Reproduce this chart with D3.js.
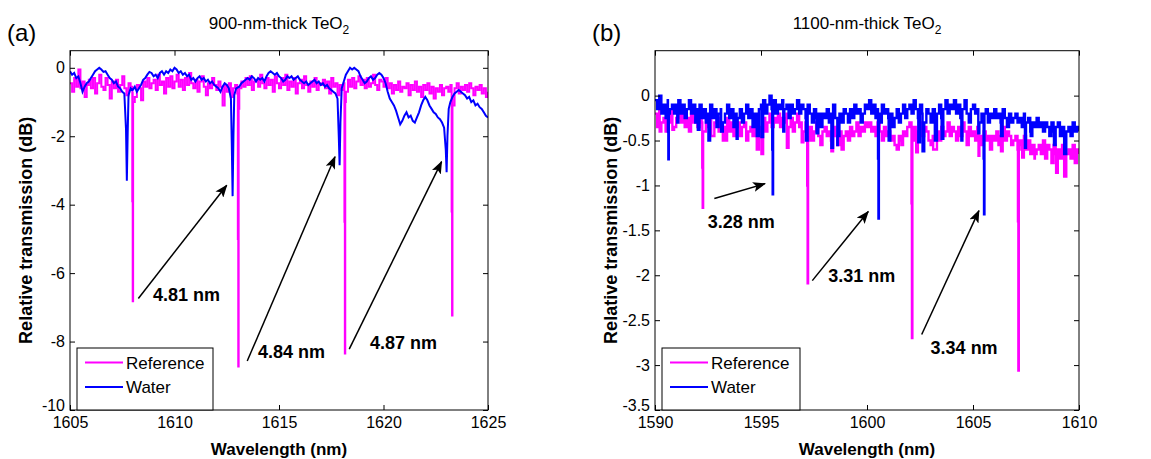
<!DOCTYPE html>
<html>
<head>
<meta charset="utf-8">
<script src="https://cdn.jsdelivr.net/npm/d3@7"></script>
<style>
  body { margin: 0; background: #fff; }
  svg { display: block; font-family: "Liberation Sans", Arial, sans-serif; }
</style>
</head>
<body>
<svg id="chart" width="1151" height="459"></svg>
<script>
// ---- panel (a): 900-nm-thick TeO2 ----
const xTicksA = [1605, 1610, 1615, 1620, 1625];
const yTicksA = [0, -2, -4, -6, -8, -10];

// Reference trace, sampled every 0.1 nm from 1605 nm
const refAStart = 1605, refAStep = 0.1;
const refAVals = [
  -0.45,-0.7,-0.3,-0.55,-0.05,-0.6,-0.4,-0.85,-0.5,-0.35,
  -0.6,-0.3,-0.75,-0.45,-0.2,-0.55,-0.65,-0.3,-0.5,-0.9,
  -0.4,-0.6,-0.35,-0.7,-0.5,-0.25,-0.6,-0.8,-0.45,-0.55,
  -0.7,-0.85,-0.5,-0.6,-0.95,-0.4,-0.55,-0.3,-0.6,-0.45,
  -0.35,-0.65,-0.2,-0.5,-0.4,-0.75,-0.3,-0.55,-0.25,-0.6,
  -0.4,-0.2,-0.55,-0.35,-0.65,-0.3,-0.5,-0.15,-0.45,-0.6,
  -0.35,-0.7,-0.4,-0.25,-0.55,-0.8,-0.45,-0.6,-0.3,-0.5,
  -0.65,-0.4,-0.55,-1.1,-0.5,-0.7,-0.45,-0.85,-0.6,-0.5,
  -0.75,-0.6,-0.4,-0.55,-0.3,-0.5,-0.25,-0.65,-0.4,-0.35,
  -0.55,-0.2,-0.45,-0.6,-0.3,-0.5,-0.35,-0.7,-0.25,-0.45,
  -0.6,-0.3,-0.5,-0.2,-0.65,-0.4,-0.55,-0.3,-0.75,-0.45,
  -0.35,-0.6,-0.25,-0.5,-0.7,-0.4,-0.55,-0.3,-0.65,-0.45,
  -0.5,-0.35,-0.6,-0.4,-0.75,-0.3,-0.55,-0.45,-0.8,-0.5,
  -0.65,-0.45,-0.7,-0.35,-0.55,-0.3,-0.6,-0.4,-0.25,-0.5,
  -0.35,-0.6,-0.3,-0.55,-0.45,-0.2,-0.5,-0.65,-0.35,-0.4,
  -0.55,-0.3,-0.6,-0.45,-0.75,-0.5,-0.65,-0.4,-0.7,-0.55,
  -0.6,-0.45,-0.8,-0.5,-0.65,-0.4,-0.7,-0.55,-0.85,-0.5,
  -0.65,-0.45,-0.75,-0.55,-0.9,-0.6,-0.7,-0.5,-0.8,-0.6,
  -0.55,-0.7,-0.5,-0.85,-0.6,-0.45,-0.75,-0.55,-0.65,-0.5,
  -0.7,-0.45,-0.6,-0.8,-0.55,-0.65,-0.5,-0.75,-0.6,-0.85,
  -0.7
];
// resonance dips of the reference trace [nm, dB]
const refADips = [
  [1607.98, -3.9], [1608.0, -6.82], [1608.02, -1.0],
  [1613.03, -5.0], [1613.05, -8.73], [1613.07, -1.2],
  [1618.13, -4.5], [1618.15, -8.35], [1618.17, -1.0],
  [1623.26, -4.2], [1623.28, -7.24], [1623.3, -1.1]
];
// Water trace [nm, dB]
const waterAPts = [
  [1605.0,-0.1],[1605.1,-0.2],[1605.2,-0.15],[1605.3,-0.3],[1605.4,-0.25],[1605.5,-0.45],[1605.6,-0.7],[1605.7,-0.55],
  [1605.8,-0.45],[1605.9,-0.4],[1606.0,-0.3],[1606.1,-0.2],[1606.2,-0.1],[1606.3,-0.05],[1606.4,0],[1606.5,-0.05],
  [1606.6,-0.12],[1606.7,-0.1],[1606.8,-0.2],[1606.9,-0.3],[1607.0,-0.35],[1607.1,-0.45],[1607.2,-0.4],[1607.3,-0.55],
  [1607.4,-0.6],[1607.5,-0.7],[1607.6,-0.75],[1607.68,-1.8],[1607.72,-3.3],[1607.76,-1.9],[1607.8,-0.8],[1607.9,-0.6],
  [1608.0,-0.65],[1608.1,-0.55],[1608.2,-0.7],[1608.3,-0.6],[1608.4,-0.5],[1608.5,-0.35],[1608.6,-0.3],[1608.7,-0.2],
  [1608.8,-0.12],[1608.9,-0.15],[1609.0,-0.25],[1609.1,-0.2],[1609.2,-0.3],[1609.3,-0.15],[1609.4,-0.1],[1609.5,-0.2],
  [1609.6,-0.1],[1609.7,-0.15],[1609.8,-0.05],[1609.9,-0.1],[1610.0,0],[1610.1,-0.05],[1610.2,-0.15],[1610.3,-0.1],
  [1610.4,-0.2],[1610.5,-0.15],[1610.6,-0.25],[1610.7,-0.2],[1610.8,-0.35],[1610.9,-0.3],[1611.0,-0.4],[1611.1,-0.3],
  [1611.2,-0.25],[1611.3,-0.35],[1611.4,-0.3],[1611.5,-0.4],[1611.6,-0.35],[1611.7,-0.45],[1611.8,-0.4],[1611.9,-0.5],
  [1612.0,-0.55],[1612.1,-0.6],[1612.2,-0.7],[1612.3,-0.55],[1612.4,-0.45],[1612.5,-0.5],[1612.6,-0.6],[1612.7,-0.9],
  [1612.74,-2.2],[1612.78,-3.75],[1612.82,-2.0],[1612.86,-0.8],[1612.95,-0.6],[1613.1,-0.55],[1613.2,-0.45],[1613.3,-0.4],
  [1613.4,-0.35],[1613.5,-0.3],[1613.6,-0.35],[1613.7,-0.25],[1613.8,-0.3],[1613.9,-0.4],[1614.0,-0.3],[1614.1,-0.35],
  [1614.2,-0.3],[1614.3,-0.4],[1614.4,-0.25],[1614.5,-0.15],[1614.6,-0.1],[1614.7,-0.15],[1614.8,-0.2],[1614.9,-0.15],
  [1615.0,-0.25],[1615.1,-0.3],[1615.2,-0.4],[1615.3,-0.35],[1615.4,-0.25],[1615.5,-0.3],[1615.6,-0.25],[1615.7,-0.35],
  [1615.8,-0.3],[1615.9,-0.25],[1616.0,-0.35],[1616.1,-0.4],[1616.2,-0.45],[1616.3,-0.4],[1616.4,-0.5],[1616.5,-0.45],
  [1616.6,-0.4],[1616.7,-0.35],[1616.8,-0.45],[1616.9,-0.4],[1617.0,-0.5],[1617.1,-0.45],[1617.2,-0.55],[1617.3,-0.5],
  [1617.4,-0.6],[1617.5,-0.65],[1617.6,-0.7],[1617.7,-0.75],[1617.8,-0.9],[1617.86,-2.0],[1617.9,-2.85],[1617.94,-1.6],
  [1618.0,-0.6],[1618.1,-0.4],[1618.2,-0.2],[1618.3,-0.1],[1618.4,0],[1618.5,-0.05],[1618.6,0],[1618.7,-0.05],
  [1618.8,-0.1],[1618.9,-0.25],[1619.0,-0.35],[1619.1,-0.45],[1619.2,-0.4],[1619.3,-0.3],[1619.4,-0.25],[1619.5,-0.35],
  [1619.6,-0.3],[1619.7,-0.2],[1619.8,-0.15],[1619.9,-0.2],[1620.0,-0.3],[1620.1,-0.45],[1620.2,-0.7],[1620.3,-0.9],
  [1620.4,-1.0],[1620.5,-1.1],[1620.6,-1.25],[1620.7,-1.45],[1620.8,-1.65],[1620.9,-1.55],[1621.0,-1.4],[1621.1,-1.3],
  [1621.2,-1.45],[1621.3,-1.4],[1621.4,-1.55],[1621.5,-1.6],[1621.6,-1.45],[1621.7,-1.3],[1621.8,-1.1],[1621.9,-0.95],
  [1622.0,-0.85],[1622.1,-0.95],[1622.2,-1.1],[1622.3,-1.2],[1622.4,-1.3],[1622.5,-1.35],[1622.6,-1.45],[1622.7,-1.5],
  [1622.8,-1.6],[1622.9,-1.75],[1622.98,-2.4],[1623.02,-3.05],[1623.06,-2.0],[1623.12,-1.2],[1623.2,-1.0],[1623.3,-0.85],
  [1623.4,-0.75],[1623.5,-0.7],[1623.6,-0.65],[1623.7,-0.7],[1623.8,-0.75],[1623.9,-0.8],[1624.0,-0.9],[1624.1,-0.85],
  [1624.2,-1.0],[1624.3,-0.95],[1624.4,-1.1],[1624.5,-1.05],[1624.6,-1.15],[1624.7,-1.2],[1624.8,-1.3],[1624.9,-1.4],
  [1625.0,-1.45]
];
// arrows [tail nm, tail dB, head nm, head dB] and labels [nm, dB, text]
const arrowsA = [[1608.27, -6.74, 1612.5, -3.43], [1613.48, -8.57, 1617.68, -2.6], [1618.36, -8.22, 1622.78, -2.74]];
const labelsA = [[1608.97, -6.64, "4.81 nm"], [1613.99, -8.3, "4.84 nm"], [1619.35, -8.02, "4.87 nm"]];

// ---- panel (b): 1100-nm-thick TeO2 ----
const xTicksB = [1590, 1595, 1600, 1605, 1610];
const yTicksB = [0, -0.5, -1, -1.5, -2, -2.5, -3, -3.5];

const refBStart = 1590, refBStep = 0.1;
const refBVals = [
  -0.2,-0.35,-0.15,-0.3,-0.25,-0.4,-0.2,-0.3,-0.15,-0.35,
  -0.25,-0.15,-0.3,-0.2,-0.35,-0.25,-0.4,-0.2,-0.3,-0.25,
  -0.35,-0.2,-0.3,-0.4,-0.25,-0.35,-0.2,-0.45,-0.3,-0.25,
  -0.4,-0.3,-0.5,-0.35,-0.25,-0.4,-0.3,-0.45,-0.35,-0.3,
  -0.45,-0.35,-0.3,-0.5,-0.4,-0.35,-0.45,-0.3,-0.6,-0.4,
  -0.35,-0.25,-0.4,-0.3,-0.2,-0.35,-0.25,-0.3,-0.2,-0.35,
  -0.25,-0.3,-0.2,-0.35,-0.25,-0.4,-0.3,-0.2,-0.35,-0.3,
  -0.4,-0.3,-0.45,-0.35,-0.5,-0.4,-0.3,-0.45,-0.55,-0.4,
  -0.35,-0.45,-0.4,-0.5,-0.35,-0.45,-0.55,-0.4,-0.6,-0.45,
  -0.4,-0.5,-0.35,-0.45,-0.4,-0.3,-0.45,-0.35,-0.4,-0.3,
  -0.35,-0.3,-0.4,-0.35,-0.45,-0.3,-0.4,-0.5,-0.35,-0.45,
  -0.4,-0.5,-0.45,-0.55,-0.6,-0.45,-0.5,-0.4,-0.45,-0.35,
  -0.3,-0.45,-0.35,-0.5,-0.4,-0.3,-0.45,-0.35,-0.4,-0.5,
  -0.55,-0.45,-0.6,-0.4,-0.5,-0.35,-0.45,-0.4,-0.3,-0.45,
  -0.35,-0.4,-0.5,-0.35,-0.45,-0.3,-0.4,-0.55,-0.35,-0.45,
  -0.4,-0.5,-0.35,-0.45,-0.55,-0.4,-0.5,-0.45,-0.6,-0.45,
  -0.5,-0.4,-0.55,-0.45,-0.35,-0.5,-0.4,-0.45,-0.55,-0.5,
  -0.45,-0.6,-0.5,-0.55,-0.45,-0.6,-0.5,-0.65,-0.55,-0.7,
  -0.6,-0.55,-0.65,-0.5,-0.7,-0.55,-0.6,-0.75,-0.55,-0.65,
  -0.6,-0.7,-0.55,-0.9,-0.65,-0.6,-0.7,-0.55,-0.75,-0.6,
  -0.65
];
const refBDips = [
  [1592.23, -0.8], [1592.25, -1.25], [1592.27, -0.4],
  [1597.18, -1.0], [1597.2, -2.09], [1597.22, -0.5],
  [1602.1, -1.2], [1602.12, -2.7], [1602.14, -0.5],
  [1607.12, -1.4], [1607.14, -3.06], [1607.16, -0.6]
];
// narrow noise spikes of the reference trace [nm, dB]
const refBSpikes = [
  [1590.22,-0.4],[1590.82,-0.38],[1592.65,-0.45],[1593.35,-0.5],[1595.02,-0.65],[1596.22,-0.58],
  [1596.92,-0.52],[1597.82,-0.55],[1598.32,-0.62],[1601.62,-0.55],[1602.32,-0.63],[1603.12,-0.6],
  [1605.26,-0.67],[1606.32,-0.62],[1607.32,-0.69],[1607.92,-0.65],[1608.92,-0.86]
];
const waterBStart = 1590, waterBStep = 0.1;
const waterBVals = [
  -0.05,-0.15,0,-0.2,-0.1,-0.25,-0.05,-0.15,-0.1,-0.2,
  -0.1,-0.05,-0.2,-0.1,-0.25,-0.15,-0.05,-0.2,-0.1,-0.3,
  -0.15,-0.1,-0.25,-0.15,-0.3,-0.2,-0.1,-0.25,-0.15,-0.35,
  -0.2,-0.15,-0.3,-0.2,-0.1,-0.25,-0.15,-0.35,-0.2,-0.25,
  -0.15,-0.3,-0.2,-0.1,-0.25,-0.15,-0.35,-0.2,-0.45,-0.15,
  -0.1,-0.05,-0.2,-0.1,0,-0.15,-0.05,-0.2,-0.1,-0.15,
  -0.05,-0.15,-0.1,-0.25,-0.1,-0.2,-0.15,-0.05,-0.2,-0.1,
  -0.15,-0.25,-0.1,-0.2,-0.3,-0.15,-0.25,-0.2,-0.35,-0.2,
  -0.25,-0.15,-0.3,-0.2,-0.1,-0.25,-0.55,-0.2,-0.3,-0.15,
  -0.2,-0.3,-0.15,-0.25,-0.1,-0.2,-0.15,-0.3,-0.2,-0.1,
  -0.15,-0.05,-0.2,-0.1,-0.25,-0.15,-0.3,-0.1,-0.2,-0.15,
  -0.25,-0.2,-0.35,-0.25,-0.15,-0.3,-0.2,-0.1,-0.25,-0.15,
  -0.1,-0.2,-0.05,-0.15,-0.25,-0.1,-0.2,-0.3,-0.15,-0.2,
  -0.3,-0.15,-0.5,-0.2,-0.1,-0.25,-0.15,-0.05,-0.2,-0.1,
  -0.15,-0.05,-0.2,-0.1,-0.25,-0.15,-0.05,-0.2,-0.3,-0.15,
  -0.1,-0.2,-0.15,-0.3,-0.2,-0.25,-0.15,-0.3,-0.2,-0.25,
  -0.15,-0.25,-0.2,-0.3,-0.15,-0.25,-0.35,-0.2,-0.3,-0.25,
  -0.2,-0.3,-0.25,-0.35,-0.2,-0.3,-0.25,-0.4,-0.3,-0.35,
  -0.25,-0.35,-0.3,-0.4,-0.3,-0.35,-0.45,-0.3,-0.4,-0.35,
  -0.3,-0.45,-0.35,-0.65,-0.4,-0.35,-0.45,-0.3,-0.4,-0.35,
  -0.4
];
const waterBDips = [
  [1590.61, -0.4], [1590.63, -0.71], [1590.65, -0.2],
  [1595.53, -0.6], [1595.55, -1.1], [1595.57, -0.2],
  [1600.52, -0.7], [1600.54, -1.37], [1600.56, -0.2],
  [1605.5, -0.7], [1605.52, -1.32], [1605.54, -0.2]
];
const waterBSpikes = [
  [1591.05,-0.3],[1592.02,-0.38],[1592.52,-0.5],[1593.12,-0.4],[1593.85,-0.48],[1595.02,-0.46],
  [1596.05,-0.4],[1597.12,-0.5],[1597.62,-0.42],[1598.32,-0.58],[1598.62,-0.45],[1601.02,-0.5],
  [1602.42,-0.52],[1602.62,-0.62],[1603.52,-0.48],[1604.45,-0.5],[1605.25,-0.42],[1606.32,-0.45],
  [1607.45,-0.58],[1607.72,-0.45],[1608.82,-0.55]
];
const arrowsB = [[1592.8, -1.145, 1595.19, -0.98], [1597.42, -2.06, 1600.06, -1.29], [1602.58, -2.66, 1605.28, -1.28]];
const labelsB = [[1592.49, -1.4, "3.28 nm"], [1598.17, -2.01, "3.31 nm"], [1603.0, -2.81, "3.34 nm"]];

const seriesNames = ["Reference", "Water"];
const seriesColors = ["#ff00ff", "#0000ff"];

// helpers
function fromSteps(start, step, vals) {
  return vals.map((v, i) => [+(start + i * step).toFixed(3), v]);
}
function withDips(pts, ...extra) {
  return pts.concat(...extra).sort((a, b) => a[0] - b[0]);
}

const svg = d3.select("#chart");

svg.append("defs").append("marker")
  .attr("id", "arrowhead")
  .attr("viewBox", "0 -5 13 10")
  .attr("refX", 12).attr("refY", 0)
  .attr("markerUnits", "userSpaceOnUse")
  .attr("markerWidth", 13).attr("markerHeight", 10)
  .attr("orient", "auto")
  .append("path")
  .attr("d", "M0,-5L13,0L0,5L3,0Z")
  .attr("fill", "#000");

function drawPanel(p) {
  const x = d3.scaleLinear().domain(p.xDomain).range([p.left, p.right]);
  const y = d3.scaleLinear().domain(p.yDomain).range([p.bottom, p.top]);
  const g = svg.append("g");

  // panel letter and title
  g.append("text").attr("x", p.letterX).attr("y", 41)
    .attr("font-size", 24).text(p.letter);
  const t = g.append("text").attr("x", (p.left + p.right) / 2).attr("y", 29)
    .attr("text-anchor", "middle").attr("font-size", 17);
  t.append("tspan").text(p.title);
  t.append("tspan").attr("font-size", 12).attr("dy", 5).text("2");

  // traces clipped to axes
  const clipId = "clip-" + p.letter.replace(/\W/g, "");
  svg.select("defs").append("clipPath").attr("id", clipId)
    .append("rect").attr("x", p.left).attr("y", p.top)
    .attr("width", p.right - p.left).attr("height", p.bottom - p.top);

  const line = d3.line().x(d => x(d[0])).y(d => y(d[1]));
  const plot = g.append("g").attr("clip-path", `url(#${clipId})`);
  p.traces.forEach((tr, i) => {
    line.curve(p.curves[i] === "linear" ? d3.curveLinear : d3.curveStepAfter);
    plot.append("path").datum(tr)
      .attr("fill", "none")
      .attr("stroke", seriesColors[i])
      .attr("stroke-width", p.lineW)
      .attr("d", line);
  });

  // axes, ticks point inward on all four sides
  const fmt = d => String(d);
  g.append("g").attr("transform", `translate(0,${p.bottom})`)
    .call(d3.axisBottom(x).tickValues(p.xTicks).tickSizeInner(-5).tickSizeOuter(0).tickPadding(7).tickFormat(fmt));
  g.append("g").attr("transform", `translate(0,${p.top})`)
    .call(d3.axisTop(x).tickValues(p.xTicks).tickSizeInner(-5).tickSizeOuter(0).tickFormat(""));
  const yAxis = g.append("g").attr("transform", `translate(${p.left},0)`)
    .call(d3.axisLeft(y).tickValues(p.yTicks).tickSizeInner(-5).tickSizeOuter(0).tickPadding(5).tickFormat(fmt));
  // lowest y label sits a little higher so it clears the first x label
  yAxis.selectAll(".tick text").filter(d => d === p.yDomain[0]).attr("dy", "0.05em");
  g.append("g").attr("transform", `translate(${p.right},0)`)
    .call(d3.axisRight(y).tickValues(p.yTicks).tickSizeInner(-5).tickSizeOuter(0).tickFormat(""));
  g.selectAll(".domain").remove();
  g.selectAll(".tick line").attr("stroke", "#000");
  g.selectAll(".tick text").attr("font-size", 16).attr("fill", "#000")
    .attr("font-family", "Liberation Sans, Arial, sans-serif");
  g.append("rect").attr("x", p.left).attr("y", p.top)
    .attr("width", p.right - p.left).attr("height", p.bottom - p.top)
    .attr("fill", "none").attr("stroke", "#000").attr("stroke-width", 1);

  // axis labels
  g.append("text").attr("x", (p.left + p.right) / 2).attr("y", 455)
    .attr("text-anchor", "middle").attr("font-size", 17).attr("font-weight", "bold")
    .text("Wavelength (nm)");
  g.append("text")
    .attr("transform", `translate(${p.left - 38},${(p.top + p.bottom) / 2}) rotate(-90)`)
    .attr("text-anchor", "middle").attr("font-size", 18).attr("font-weight", "bold")
    .text("Relative transmission (dB)");

  // arrows and spacing labels
  p.arrows.forEach(a => {
    g.append("line")
      .attr("x1", x(a[0])).attr("y1", y(a[1]))
      .attr("x2", x(a[2])).attr("y2", y(a[3]))
      .attr("stroke", "#000").attr("stroke-width", 1.5)
      .attr("marker-end", "url(#arrowhead)");
  });
  p.labels.forEach(l => {
    g.append("text").attr("x", x(l[0])).attr("y", y(l[1])).attr("dy", "0.35em")
      .attr("font-size", 18).attr("font-weight", "bold").text(l[2]);
  });

  // legend
  const lg = g.append("g").attr("transform", `translate(${p.left + 7},${p.bottom - 62})`);
  lg.append("rect").attr("width", p.legendW).attr("height", 62)
    .attr("fill", "#fff").attr("stroke", "#000").attr("stroke-width", 1);
  seriesNames.forEach((name, i) => {
    const yy = 14.5 + i * 24.5;
    lg.append("line").attr("x1", 8).attr("x2", 46).attr("y1", yy).attr("y2", yy)
      .attr("stroke", seriesColors[i]).attr("stroke-width", 2);
    lg.append("text").attr("x", 49).attr("y", yy).attr("dy", "0.36em")
      .attr("font-size", 17).text(name);
  });
}

drawPanel({
  letter: "(a)", letterX: 7, title: "900-nm-thick TeO",
  xDomain: [1605, 1625], yDomain: [-10, 0.5],
  left: 70, right: 488, top: 50.7, bottom: 410,
  xTicks: xTicksA, yTicks: yTicksA,
  traces: [withDips(fromSteps(refAStart, refAStep, refAVals), refADips), waterAPts],
  curves: ["step", "linear"], lineW: 2,
  arrows: arrowsA, labels: labelsA, legendW: 136
});

drawPanel({
  letter: "(b)", letterX: 592, title: "1100-nm-thick TeO",
  xDomain: [1590, 1610], yDomain: [-3.5, 0.5],
  left: 655, right: 1079, top: 50.7, bottom: 410,
  xTicks: xTicksB, yTicks: yTicksB,
  traces: [withDips(fromSteps(refBStart, refBStep, refBVals), refBDips, refBSpikes),
           withDips(fromSteps(waterBStart, waterBStep, waterBVals), waterBDips, waterBSpikes)],
  curves: ["step", "step"], lineW: 2.4,
  arrows: arrowsB, labels: labelsB, legendW: 138
});
</script>
</body>
</html>
